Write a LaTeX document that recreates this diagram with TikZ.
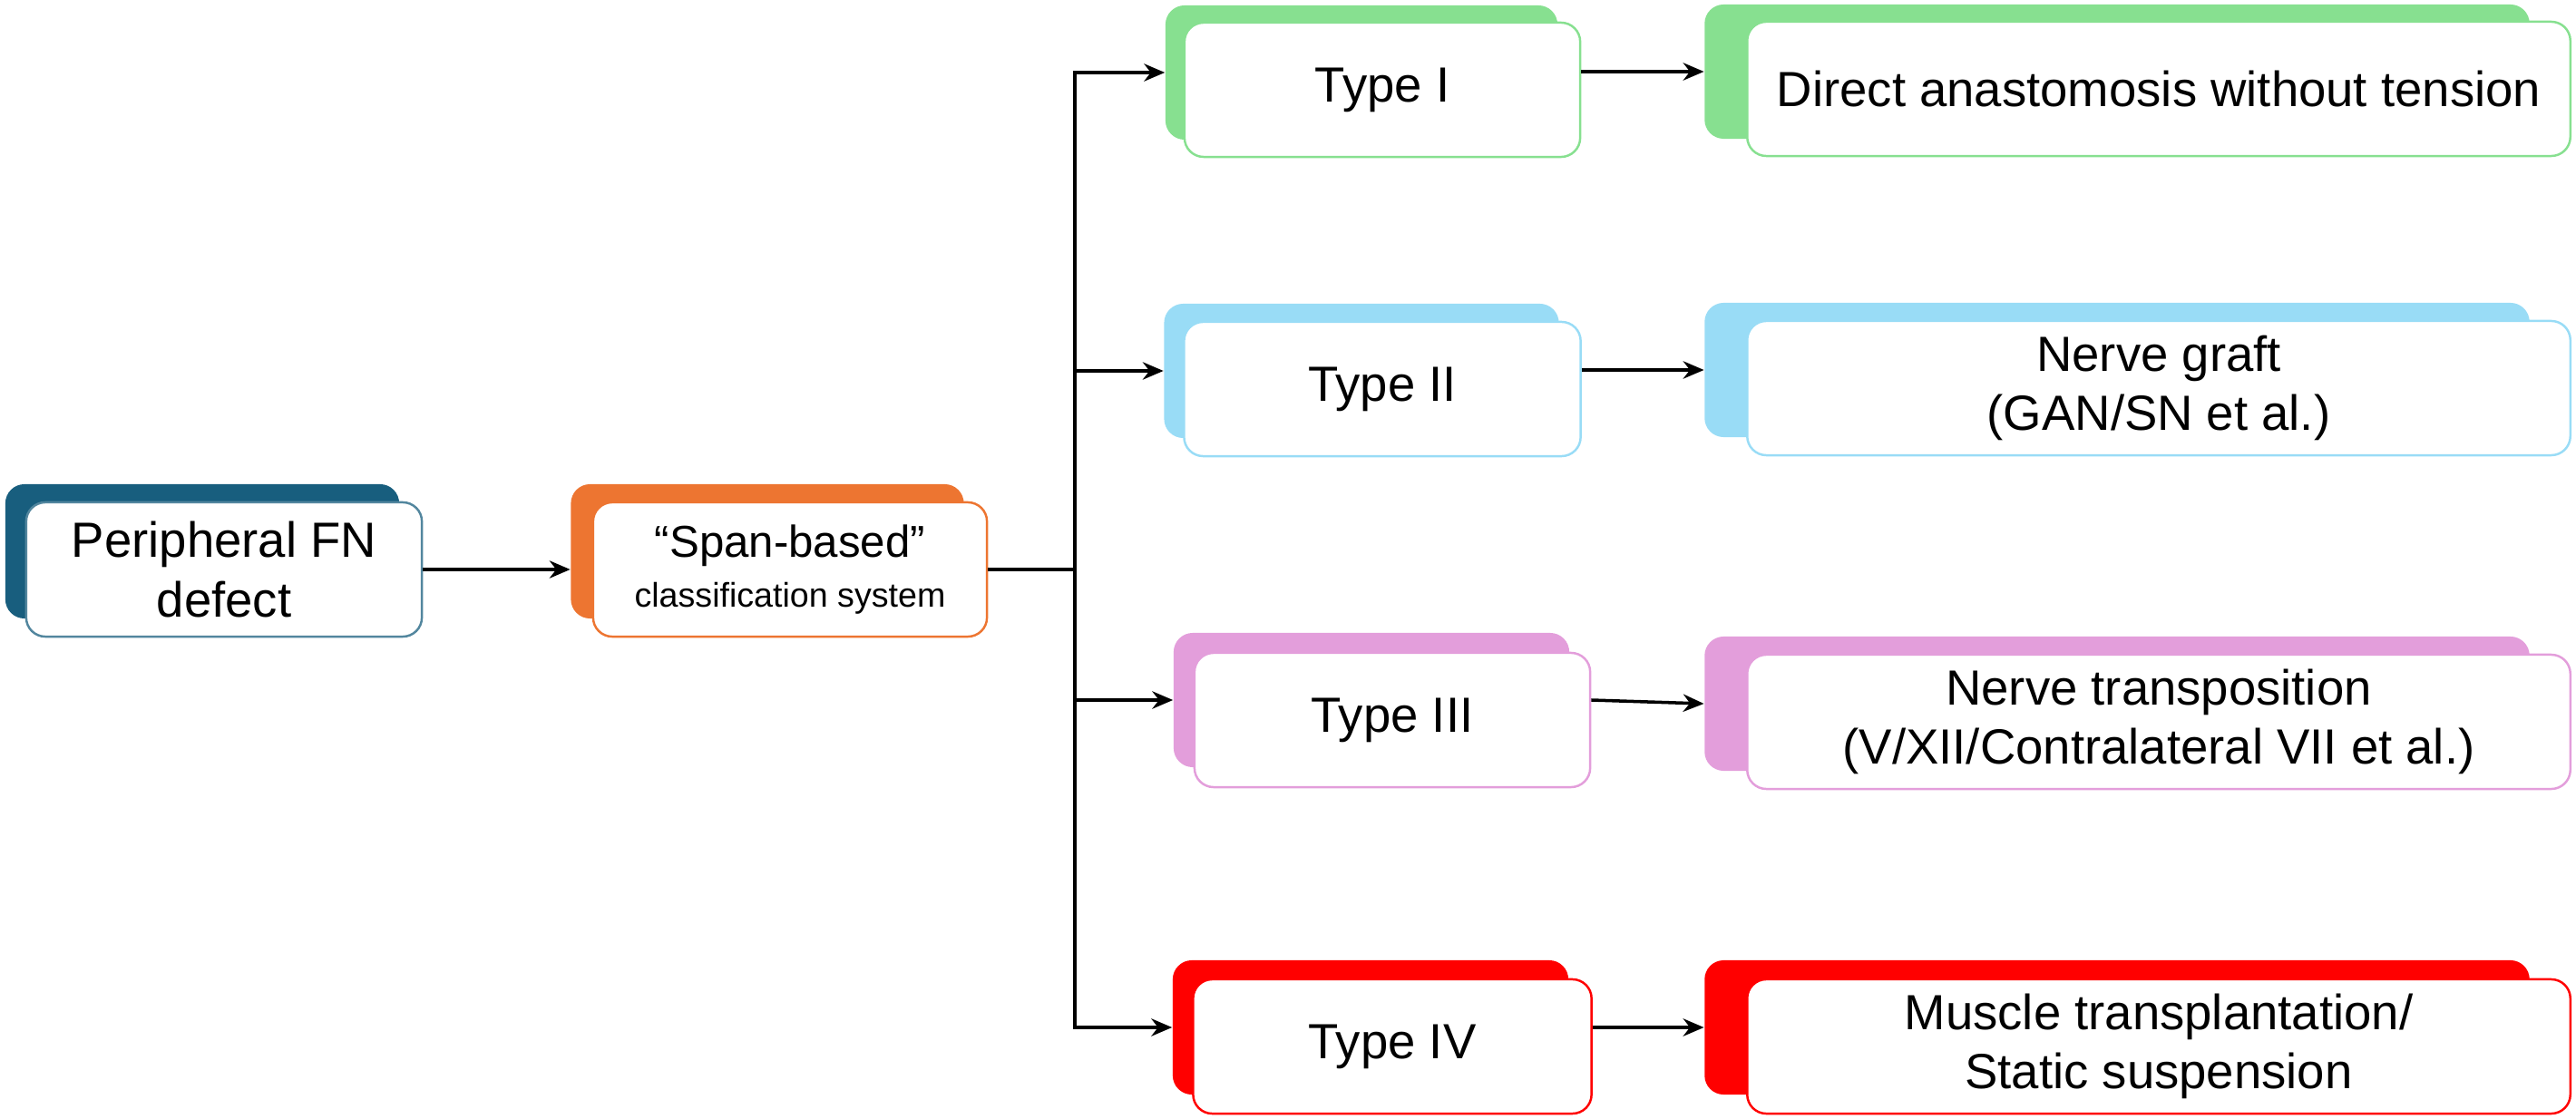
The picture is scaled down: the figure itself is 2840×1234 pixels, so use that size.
\documentclass[tikz,border=0pt]{standalone}
\usepackage{fontspec}
\setmainfont{Liberation Sans}
\usepackage{tikz}
\usetikzlibrary{arrows.meta}

\definecolor{fnblue}{RGB}{24,94,126}
\definecolor{spanorange}{RGB}{237,117,49}
\definecolor{typegreen}{RGB}{135,224,144}
\definecolor{typeblue}{RGB}{153,220,246}
\definecolor{typepink}{RGB}{227,158,219}
\definecolor{typered}{RGB}{255,0,0}

\tikzstyle{arrow} = [-{Stealth[length=6.5pt,width=5.5pt]},line width=1pt]
\tikzstyle{shadow} = [rounded corners=6pt,minimum height=1.48cm,inner sep=0pt]
\tikzstyle{box} = [draw,fill=white,line width=0.7pt,rounded corners=6pt,minimum height=1.48cm,
                   align=center,font=\fontsize{15.5}{18.6}\selectfont]

\begin{document}
\begin{tikzpicture}[x=0.01cm,y=-0.01cm]
    \useasboundingbox (0,0) rectangle (2840,1234);

    % start and classification
    \node[shadow, fill=fnblue, minimum width=4.34cm] (fns) at (223,608) {};
    \node[box, draw=fnblue!75, minimum width=4.36cm] (fn) at (247,628) {Peripheral FN\\defect};
    \node[shadow, fill=spanorange, minimum width=4.33cm] (spans) at (846,608) {};
    \node[box, draw=spanorange, minimum width=4.34cm] (span) at (871,628)
        {\fontsize{14}{16.8}\selectfont “Span-based”\\[-3pt]{\fontsize{10.7}{13}\selectfont classification system}};

    % types
    \node[shadow, fill=typegreen, minimum width=4.32cm] (t1s) at (1501,80) {};
    \node[box, draw=typegreen, minimum width=4.36cm] (t1) at (1524,99) {Type I};
    \node[shadow, fill=typeblue, minimum width=4.35cm] (t2s) at (1501,409) {};
    \node[box, draw=typeblue, minimum width=4.37cm] (t2) at (1524,429) {Type II};
    \node[shadow, fill=typepink, minimum width=4.36cm] (t3s) at (1512,772) {};
    \node[box, draw=typepink, minimum width=4.36cm] (t3) at (1535,794) {Type III};
    \node[shadow, fill=typered, minimum width=4.36cm] (t4s) at (1511,1133) {};
    \node[box, draw=typered, minimum width=4.39cm] (t4) at (1535,1154) {Type IV};

    % repair methods
    \node[shadow, fill=typegreen, minimum width=9.09cm] (r1s) at (2334,79) {};
    \node[box, draw=typegreen, minimum width=9.07cm] (r1) at (2380,98) {Direct anastomosis without tension};
    \node[shadow, fill=typeblue, minimum width=9.09cm] (r2s) at (2334,408) {};
    \node[box, draw=typeblue, minimum width=9.07cm] (r2) at (2380,428) {Nerve graft\\(GAN/SN et al.)};
    \node[shadow, fill=typepink, minimum width=9.09cm] (r3s) at (2334,776) {};
    \node[box, draw=typepink, minimum width=9.07cm] (r3) at (2380,796) {Nerve transposition\\(V/XII/Contralateral VII et al.)};
    \node[shadow, fill=typered, minimum width=9.09cm] (r4s) at (2334,1133) {};
    \node[box, draw=typered, minimum width=9.07cm] (r4) at (2380,1154) {Muscle transplantation/\\Static suspension};

    \coordinate (fork) at (1185,628);

    \draw[arrow] (fn.east) -- (fn.east -| spans.west);
    \draw[line width=1pt] (span.east) -- (fork);
    \draw[arrow] (fork) |- (t1s.west);
    \draw[arrow] (fork) |- (t2s.west);
    \draw[arrow] (fork) |- (t3s.west);
    \draw[arrow] (fork) |- (t4s.west);

    \draw[arrow] (t1.east |- r1s.west) -- (r1s.west);
    \draw[arrow] (t2.east |- r2s.west) -- (r2s.west);
    \draw[arrow] (t3.east |- t3s.west) -- (r3s.west);
    \draw[arrow] (t4.east |- r4s.west) -- (r4s.west);
\end{tikzpicture}
\end{document}
